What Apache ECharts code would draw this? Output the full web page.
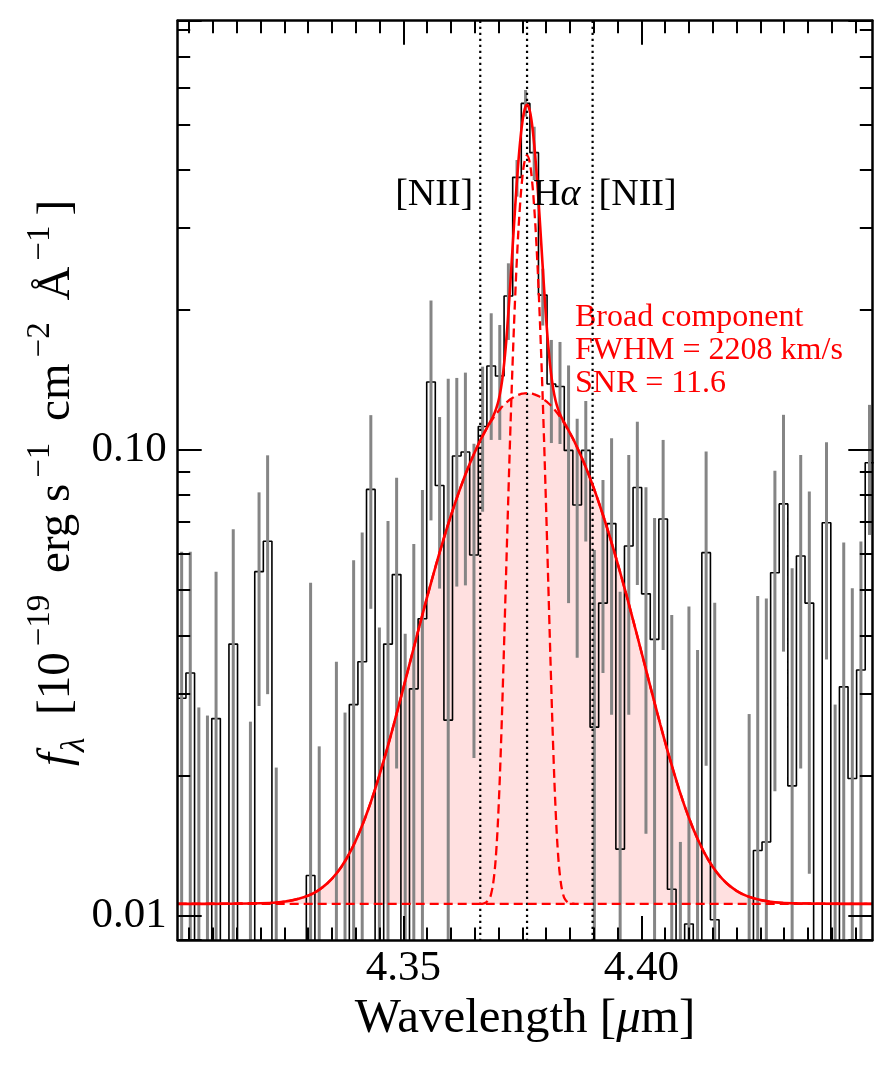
<!DOCTYPE html>
<html>
<head>
<meta charset="utf-8">
<script src="https://cdn.jsdelivr.net/npm/echarts@6.0.0/dist/echarts.min.js"></script>
<style>
html,body{margin:0;padding:0;background:#fff;}
#chart{width:891px;height:1069px;}
</style>
</head>
<body>
<div id="chart"></div>
<script>
// ---------------- data ----------------
const binWave = [4.30344,4.30525,4.30705,4.30886,4.31067,4.31247,4.31428,4.31608,4.31789,4.31970,
 4.32150,4.32331,4.32512,4.32692,4.32873,4.33053,4.33234,4.33415,4.33595,4.33776,
 4.33957,4.34137,4.34318,4.34498,4.34679,4.34860,4.35040,4.35221,4.35402,4.35582,
 4.35763,4.35944,4.36124,4.36305,4.36485,4.36666,4.36847,4.37027,4.37208,4.37389,
 4.37569,4.37750,4.37930,4.38111,4.38292,4.38472,4.38653,4.38834,4.39014,4.39195,
 4.39376,4.39556,4.39737,4.39917,4.40098,4.40279,4.40459,4.40640,4.40821,4.41001,
 4.41182,4.41362,4.41543,4.41724,4.41904,4.42085,4.42266,4.42446,4.42627,4.42807,
 4.42988,4.43169,4.43349,4.43530,4.43711,4.43891,4.44072,4.44253,4.44433,4.44614,
 4.44794];
// null = flux below the plotted range
const binFlux = [0.0293,0.0332,null,null,0.0265,null,0.0383,null,null,0.0548,
 0.0637,null,null,null,null,0.0122,null,null,null,null,
 0.0284,0.0351,0.0823,null,0.0383,0.0540,null,0.0307,0.0434,0.140,
 0.0839,0.0263,0.0971,0.0990,0.0595,0.1123,0.1515,0.1442,0.2141,0.385,
 0.555,0.435,0.2151,0.1386,0.1369,0.0998,0.0762,0.0998,0.0254,0.0469,
 0.0695,0.0139,0.0622,0.0831,0.0491,0.0392,0.0711,0.0114,null,0.0096,
 null,0.0602,0.0098,null,null,null,null,0.0138,0.0144,0.0545,
 0.0766,0.0190,0.0592,0.0469,null,0.0698,null,0.0310,0.0197,0.0337,
 0.0939];
const errHigh = [0.0605,0.0605,0.0280,0.0269,0.0548,null,0.0676,null,0.0261,0.0811,
 0.0974,0.0208,null,null,null,0.0519,0.0231,null,0.0351,0.0273,
 0.0580,0.0665,0.1188,0.0416,0.0704,0.0872,0.0403,0.0628,0.0821,0.2094,
 0.1177,0.1423,0.1428,0.1466,0.1031,0.151,0.1966,0.1855,0.2517,0.4195,
 0.593,0.4945,0.245,0.1723,0.1706,0.1519,0.1167,0.1274,0.0610,0.0862,
 0.1060,0.0496,0.0976,0.1150,0.0832,0.0714,0.1051,0.0442,0.0144,0.0461,
 0.0372,0.0992,0.0470,null,null,null,0.0271,0.0486,0.0480,0.0903,
 0.119,0.0557,0.0976,0.0814,null,0.1039,0.0284,0.0633,0.0505,0.0636,
 0.125];
// null = lower end of the error bar below the plotted range
const errLow = [null,null,null,null,null,null,null,null,null,0.0282,
 0.0299,null,null,null,null,null,null,null,null,null,
 null,null,0.0456,null,null,0.0207,null,null,null,0.0706,
 0.0504,null,0.0509,0.0512,0.0218,0.0737,0.1051,0.1051,0.1723,0.350,
 0.520,0.380,0.185,0.1035,0.1030,0.0469,0.0358,0.0636,null,0.0332,
 0.0270,null,0.0270,0.0513,0.0150,null,0.0372,null,null,null,
 null,0.0210,null,null,null,null,null,null,null,0.0185,
 0.0369,null,0.0207,0.0123,null,0.0355,null,null,null,null,
 0.0657];

const modelWave = [4.3026,4.3220,4.3260,4.3280,4.3300,4.3320,4.3340,4.3360,4.3380,4.3400,
 4.3420,4.3440,4.3460,4.3480,4.3500,4.3520,4.3540,4.3560,4.3580,4.3600,
 4.3620,4.3640,4.3660,4.3670,4.3680,4.3685,4.3690,4.3695,4.3700,4.3705,
 4.3710,4.3715,4.3720,4.3725,4.3730,4.3735,4.3740,4.3745,4.3750,4.3755,
 4.3760,
 4.3765,4.3770,4.3775,4.3780,4.3785,4.3790,4.3795,4.3800,4.3805,4.3810,
 4.3815,4.3820,4.3825,4.3830,4.3835,4.3840,4.3850,4.3860,4.3880,4.3900,
 4.3920,4.3940,4.3960,4.3980,4.4000,4.4020,4.4040,4.4060,4.4080,4.4100,
 4.4120,4.4140,4.4160,4.4180,4.4200,4.4220,4.4240,4.4260,4.4300,4.4485];
const modelTotal = [0.0106,0.01065,0.01076,0.01087,0.01104,0.01131,0.01172,0.01233,0.01322,0.01448,
 0.01623,0.01859,0.02172,0.02574,0.03077,0.03692,0.04421,0.05263,0.06205,0.07225,
 0.08291,0.09364,0.1040,0.1088,0.1136,0.1161,0.1189,0.1225,0.1276,0.1353,
 0.1472,0.1654,0.1920,0.2287,0.2760,0.3323,0.3936,0.4536,0.5046,0.5389,
 0.5510,
 0.5389,0.5046,0.4536,0.3936,0.3323,0.2760,0.2287,0.1920,0.1654,0.1472,
 0.1353,0.1276,0.1225,0.1189,0.1161,0.1136,0.1088,0.1040,0.09364,0.08291,
 0.07225,0.06205,0.05263,0.04421,0.03692,0.03077,0.02574,0.02172,0.01859,0.01623,
 0.01448,0.01322,0.01233,0.01172,0.01131,0.01104,0.01087,0.01076,0.01065,0.0106];
const modelBroad = [0.0106,0.01065,0.01076,0.01087,0.01104,0.01131,0.01172,0.01233,0.01322,0.01448,
 0.01623,0.01859,0.02172,0.02574,0.03077,0.03692,0.04421,0.05263,0.06205,0.07225,
 0.08291,0.09364,0.1040,0.1088,0.1133,0.1155,0.1175,0.1195,0.1213,0.1230,
 0.1246,0.1260,0.1273,0.1285,0.1295,0.1304,0.1311,0.1317,0.1321,0.1323,
 0.1324,
 0.1323,0.1321,0.1317,0.1311,0.1304,0.1295,0.1285,0.1273,0.1260,0.1246,
 0.1230,0.1213,0.1195,0.1175,0.1155,0.1133,0.1088,0.1040,0.09364,0.08291,
 0.07225,0.06205,0.05263,0.04421,0.03692,0.03077,0.02574,0.02172,0.01859,0.01623,
 0.01448,0.01322,0.01233,0.01172,0.01131,0.01104,0.01087,0.01076,0.01065,0.0106];
const modelNarrow = [0.0106,0.0106,0.0106,0.0106,0.0106,0.0106,0.0106,0.0106,0.0106,0.0106,
 0.0106,0.0106,0.0106,0.0106,0.0106,0.0106,0.0106,0.0106,0.0106,0.0106,
 0.0106,0.0106,0.0106,0.01063,0.01084,0.01119,0.01198,0.01362,0.01688,0.02287,
 0.03324,0.05001,0.07530,0.1108,0.1571,0.2125,0.2731,0.3325,0.3831,0.4172,
 0.4292,
 0.4172,0.3831,0.3325,0.2731,0.2125,0.1571,0.1108,0.07530,0.05001,0.03324,
 0.02287,0.01688,0.01362,0.01198,0.01119,0.01084,0.01063,0.0106,0.0106,0.0106,
 0.0106,0.0106,0.0106,0.0106,0.0106,0.0106,0.0106,0.0106,0.0106,0.0106,
 0.0106,0.0106,0.0106,0.0106,0.0106,0.0106,0.0106,0.0106,0.0106,0.0106];
const contLevel = 0.0106;
const narrowWindow = [4.3660, 4.3860];

const lineWave = [4.36617, 4.37600, 4.38977];
const lineNames = ['[NII]', 'Hα', '[NII]'];
const lineLabelFlux = 0.353;

const xMajorTicks = [4.35, 4.40];
const xMinorTicks = [4.305,4.31,4.315,4.32,4.325,4.33,4.335,4.34,4.345,4.355,4.36,4.365,4.37,
 4.375,4.38,4.385,4.39,4.395,4.405,4.41,4.415,4.42,4.425,4.43,4.435,4.44,4.445];
const yMajorTicks = [0.01, 0.1];
const yMinorTicks = [0.02,0.03,0.04,0.05,0.06,0.07,0.08,0.09,0.2,0.3,0.4,0.5,0.6,0.7,0.8];
const xMin = 4.30261, xMax = 4.44853;
const yMin = 0.008867, yMax = 0.8353;

// ---------------- chart ----------------
const SERIF = "'Liberation Serif','Times New Roman',Times,serif";
const chart = echarts.init(document.getElementById('chart'), null, {renderer: 'canvas'});

const floorFlux = yMin * 0.05;
const edges = [];
for (let i = 0; i <= binWave.length; i++) {
  if (i === 0) edges.push(binWave[0] - (binWave[1] - binWave[0]) / 2);
  else if (i === binWave.length) edges.push(binWave[i - 1] + (binWave[i - 1] - binWave[i - 2]) / 2);
  else edges.push((binWave[i - 1] + binWave[i]) / 2);
}
const stepData = [];
binWave.forEach((w, i) => {
  const v = binFlux[i] == null ? floorFlux : binFlux[i];
  stepData.push([edges[i], v], [edges[i + 1], v]);
});
const errData = [];
binWave.forEach((w, i) => {
  if (errHigh[i] == null) return;
  errData.push([w, errLow[i] == null ? floorFlux : errLow[i], errHigh[i]]);
});
const zip = (xs, ys) => xs.map((x, i) => [x, ys[i]]);
const narrowData = zip(modelWave, modelNarrow).filter(p => p[0] >= narrowWindow[0] - 1e-9 && p[0] <= narrowWindow[1] + 1e-9);

const axisLineStyle = {color: '#000', width: 2.5};
const tickStyle = {color: '#000', width: 2};
const MAJOR = 24, MINOR = 12.5;

function xAx(pos, major, labels) {
  return {
    type: 'value', min: xMin, max: xMax, position: pos, z: 10,
    axisLine: {show: major, onZero: false, lineStyle: axisLineStyle},
    axisTick: {show: true, inside: true, length: major ? MAJOR : MINOR, lineStyle: tickStyle,
               customValues: major ? xMajorTicks : xMinorTicks},
    axisLabel: labels ? {show: true, customValues: xMajorTicks, formatter: v => Number(v).toFixed(2),
               fontSize: 43, color: '#000', fontFamily: SERIF, margin: 7} : {show: false},
    splitLine: {show: false}
  };
}
function yLogAx(pos, labels) {
  return {
    type: 'log', logBase: 10, min: yMin, max: yMax, position: pos, z: 10,
    axisLine: {show: true, onZero: false, lineStyle: axisLineStyle},
    axisTick: {show: true, inside: true, length: MAJOR, lineStyle: tickStyle},
    axisLabel: labels ? {show: true, fontSize: 43, color: '#000', fontFamily: SERIF, margin: 11,
      formatter: v => yMajorTicks.some(t => Math.abs(t - v) / t < 1e-4) ? Number(v).toFixed(2) : ''} : {show: false},
    splitLine: {show: false}, minorTick: {show: false}
  };
}
function yMinorAx(pos) {
  return {
    type: 'value', min: Math.log10(yMin), max: Math.log10(yMax), position: pos, z: 10,
    axisLine: {show: false, onZero: false},
    axisTick: {show: true, inside: true, length: MINOR, lineStyle: tickStyle,
               customValues: yMinorTicks.map(v => Math.log10(v))},
    axisLabel: {show: false}, splitLine: {show: false}
  };
}

const red = '#ff0000';
const dash = [9, 5];

const option = {
  animation: false,
  backgroundColor: '#fff',
  textStyle: {fontFamily: SERIF},
  grid: {left: 177.7, right: 18.7, top: 20.7, bottom: 129, containLabel: false, outerBoundsMode: 'none'},
  xAxis: [xAx('bottom', true, true), xAx('bottom', false, false), xAx('top', true, false), xAx('top', false, false)],
  yAxis: [yLogAx('left', true), yMinorAx('left'), yLogAx('right', false), yMinorAx('right')],
  series: [
    { // pink fill under broad component
      type: 'line', data: zip(modelWave, modelBroad), showSymbol: false, symbol: 'none', smooth: 0.4,
      lineStyle: {width: 0, opacity: 0}, areaStyle: {color: 'rgba(255,0,0,0.12)', origin: 'start', opacity: 1},
      z: 1, silent: true
    },
    { // mask below the continuum
      type: 'line', data: [[xMin, contLevel], [xMax, contLevel]], showSymbol: false, symbol: 'none',
      lineStyle: {width: 0, opacity: 0}, areaStyle: {color: '#ffffff', origin: 'start', opacity: 1},
      z: 2, silent: true
    },
    { // histogram
      type: 'line', data: stepData, showSymbol: false, symbol: 'none',
      lineStyle: {color: '#000', width: 1.6}, clip: true, z: 3, silent: true
    },
    { // error bars
      type: 'custom', data: errData, z: 4, silent: true,
      renderItem: (params, api) => {
        const cs = params.coordSys;
        const x = api.value(0);
        const top = api.coord([x, api.value(2)]);
        const bot = api.coord([x, api.value(1)]);
        const y1 = Math.max(top[1], cs.y);
        const y2 = Math.min(bot[1], cs.y + cs.height);
        if (y2 <= y1) return null;
        return {type: 'line', shape: {x1: top[0], y1: y1, x2: top[0], y2: y2},
                style: {stroke: '#858585', lineWidth: 3}};
      }
    },
    { // dotted vertical lines at the emission-line wavelengths
      type: 'custom', data: lineWave.map(w => [w, lineLabelFlux]), z: 5, silent: true,
      renderItem: (params, api) => {
        const cs = params.coordSys;
        const p = api.coord([api.value(0), api.value(1)]);
        return {type: 'line', shape: {x1: p[0], y1: cs.y, x2: p[0], y2: cs.y + cs.height},
                style: {stroke: '#000', lineWidth: 2.2, lineDash: [2.2, 3.8]}};
      }
    },
    { // continuum
      type: 'line', data: [[xMin, contLevel], [xMax, contLevel]], showSymbol: false, symbol: 'none',
      lineStyle: {color: red, width: 2.3, type: dash}, z: 6, silent: true
    },
    { // broad component
      type: 'line', data: zip(modelWave, modelBroad), showSymbol: false, symbol: 'none', smooth: 0.4,
      lineStyle: {color: red, width: 2.3, type: dash}, z: 6, silent: true
    },
    { // narrow component
      type: 'line', data: narrowData, showSymbol: false, symbol: 'none', smooth: 0.4,
      lineStyle: {color: red, width: 2.3, type: dash}, z: 6, silent: true
    },
    { // total model
      type: 'line', data: zip(modelWave, modelTotal), showSymbol: false, symbol: 'none', smooth: 0.4,
      lineStyle: {color: red, width: 2.6}, z: 7, silent: true
    },
    { // line labels
      type: 'custom', z: 8, silent: true,
      data: lineWave.map((w, i) => [w, lineLabelFlux, i]),
      renderItem: (params, api) => {
        const i = api.value(2);
        const p = api.coord([api.value(0), api.value(1)]);
        const leftSide = i === 0;
        const name = lineNames[i];
        const text = name.indexOf('α') >= 0 ? '{rm|' + name.replace('α', '') + '}{it|α}' : '{rm|' + name + '}';
        return {type: 'text', x: p[0] + (leftSide ? -7 : 6), y: p[1],
          style: {text: text, align: leftSide ? 'right' : 'left', verticalAlign: 'middle', fill: '#000',
            rich: {rm: {fontFamily: SERIF, fontSize: 38, fill: '#000'},
                   it: {fontFamily: SERIF, fontSize: 38, fontStyle: 'italic', fill: '#000'}}}};
      }
    }
  ],
  graphic: [
    { // y axis title
      type: 'text', x: 58, y: 482, rotation: Math.PI / 2, silent: true,
      style: {
        text: '{it|f}{sub|λ}{rm| [10}{sup|−19}{rm| erg s}{sup|−1}{rm| cm}{sup|−2}{rm| Å}{sup|−1}{rm|]}',
        align: 'center', verticalAlign: 'middle', fill: '#000',
        rich: {
          it: {fontFamily: SERIF, fontStyle: 'italic', fontSize: 47, padding: [0, 1, 12, 0], verticalAlign: 'bottom', fill: '#000'},
          sub: {fontFamily: SERIF, fontStyle: 'italic', fontSize: 33, verticalAlign: 'bottom', padding: [0, 5, 0, 0], fill: '#000'},
          rm: {fontFamily: SERIF, fontSize: 47, padding: [0, 2, 12, 6], verticalAlign: 'bottom', fill: '#000'},
          sup: {fontFamily: SERIF, fontSize: 33, padding: [0, 4, 35, 4], verticalAlign: 'bottom', fill: '#000'}
        }
      }
    },
    { // x axis title
      type: 'text', x: 525, y: 1019, silent: true,
      style: {
        text: '{rm|Wavelength [}{it|μ}{rm|m]}',
        align: 'center', verticalAlign: 'middle', fill: '#000',
        rich: {
          rm: {fontFamily: SERIF, fontSize: 49, fill: '#000'},
          it: {fontFamily: SERIF, fontSize: 49, fontStyle: 'italic', fill: '#000'}
        }
      }
    },
    { // broad component annotation
      type: 'text', x: 575, y: 301, silent: true,
      style: {
        text: 'Broad component\nFWHM = 2208 km/s\nSNR = 11.6',
        font: '32px ' + SERIF, fill: red, lineHeight: 33, align: 'left', verticalAlign: 'top'
      }
    }
  ]
};
chart.setOption(option);
</script>
</body>
</html>
